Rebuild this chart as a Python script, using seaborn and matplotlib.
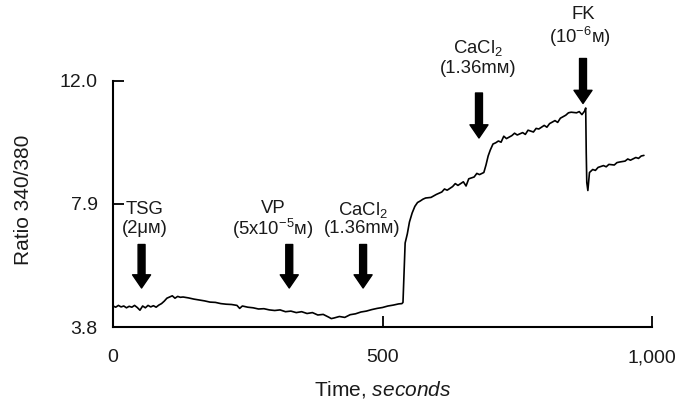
import matplotlib
matplotlib.use("Agg")
import matplotlib.pyplot as plt
import seaborn as sns
import pandas as pd

# ---- data ----
time_s = [0, 5, 10, 15, 20, 25, 30, 35, 40, 45, 50, 55, 60, 65, 70, 75, 80, 85, 90, 95,
          100, 105, 110, 115, 120, 125, 130, 140, 150, 160, 170, 180, 190, 200, 210, 220,
          230, 235, 240, 250, 260, 270, 280, 290, 300, 310, 320, 330, 340, 350, 360, 370,
          380, 390, 400, 405, 410, 420, 430, 440, 450, 460, 470, 480, 490, 500, 510, 520,
          530, 536, 538, 540, 542, 546, 550, 555, 560, 565, 570, 575, 580, 590, 600, 610,
          615, 620, 630, 635, 640, 650, 655, 660, 670, 675, 680, 688, 692, 696, 700, 705,
          710, 715, 720, 725, 730, 740, 745, 750, 760, 765, 770, 780, 785, 790, 800, 805,
          810, 820, 825, 830, 840, 845, 850, 860, 865, 870, 875, 877, 878, 879, 881, 884,
          890, 895, 900, 910, 915, 920, 930, 935, 940, 950, 955, 960, 970, 975, 980, 985]
ratio = [4.50, 4.46, 4.52, 4.47, 4.50, 4.44, 4.49, 4.46, 4.52, 4.45, 4.36, 4.50, 4.44, 4.52, 4.47, 4.51, 4.46, 4.53, 4.58, 4.66,
         4.76, 4.80, 4.84, 4.76, 4.82, 4.79, 4.80, 4.77, 4.73, 4.70, 4.67, 4.63, 4.62, 4.58, 4.56, 4.55,
         4.52, 4.42, 4.50, 4.46, 4.44, 4.40, 4.41, 4.37, 4.35, 4.37, 4.31, 4.33, 4.28, 4.31, 4.25, 4.28,
         4.20, 4.22, 4.13, 4.08, 4.10, 4.15, 4.12, 4.21, 4.24, 4.30, 4.33, 4.38, 4.42, 4.45, 4.50, 4.53,
         4.57, 4.58, 4.62, 5.60, 6.60, 6.90, 7.30, 7.60, 7.82, 7.95, 8.00, 8.06, 8.10, 8.12, 8.22, 8.30,
         8.40, 8.36, 8.48, 8.58, 8.52, 8.64, 8.50, 8.74, 8.80, 8.92, 8.88, 8.95, 9.20, 9.50, 9.70, 9.90,
         9.94, 10.00, 9.96, 10.16, 10.08, 10.18, 10.26, 10.20, 10.28, 10.22, 10.36, 10.30, 10.42, 10.40, 10.52, 10.46,
         10.58, 10.68, 10.62, 10.76, 10.86, 10.94, 10.96, 10.94, 10.98, 10.88, 11.00, 11.10, 9.60, 8.62, 8.35, 8.95,
         9.05, 9.02, 9.12, 9.18, 9.14, 9.22, 9.20, 9.28, 9.30, 9.33, 9.40, 9.36, 9.45, 9.42, 9.50, 9.52]

x_ticks = [0, 500, 1000]
x_tick_labels = ["0", "500", "1,000"]
y_ticks = [3.8, 7.9, 12.0]
y_tick_labels = ["3.8", "7.9", "12.0"]

# event arrows: (time, arrow top, arrow tip)
arrow_time = [53, 327, 464, 679, 872]
arrow_top = [6.55, 6.55, 6.55, 11.6, 12.75]
arrow_tip = [5.10, 5.10, 5.10, 10.1, 11.25]

# labels: (x, y, text)
label_x = [59, 59, 297, 297, 464, 462, 677, 677, 872, 866]
label_y = [7.70, 7.08, 7.76, 7.08, 7.70, 7.08, 13.10, 12.42, 14.20, 13.47]
label_text = ["TSG", "(2μᴍ)", "VP", "(5x10$^{-5}$ᴍ)", "CaCl$_2$", "(1.36mᴍ)",
              "CaCl$_2$", "(1.36mᴍ)", "FK", "(10$^{-6}$ᴍ)"]

# ---- style ----
sns.set_style("ticks")
plt.rcParams["font.family"] = ["Liberation Sans", "DejaVu Sans"]
plt.rcParams["mathtext.fontset"] = "custom"
plt.rcParams["mathtext.rm"] = "Liberation Sans"
plt.rcParams["mathtext.it"] = "Liberation Sans:italic"
plt.rcParams["mathtext.bf"] = "Liberation Sans:bold"

fig = plt.figure(figsize=(6.94, 4.01), dpi=100)
ax = fig.add_axes([113 / 694, 74 / 401, 539 / 694, 246 / 401])

df = pd.DataFrame({"time": time_s, "ratio": ratio})
sns.lineplot(data=df, x="time", y="ratio", ax=ax, color="black", linewidth=1.2,
             estimator=None)

ax.set_xlim(0, 1000)
ax.set_ylim(3.8, 12.0)
ax.set_xticks(x_ticks)
ax.set_xticklabels(x_tick_labels)
ax.set_yticks(y_ticks)
ax.set_yticklabels(y_tick_labels)
ax.tick_params(axis="both", direction="in", length=8, width=1.3, labelsize=14,
               color="black", labelcolor="#1a1a1a")
ax.tick_params(axis="x", pad=16)
ax.tick_params(axis="y", pad=11)

for side in ["top", "right"]:
    ax.spines[side].set_visible(False)
for side in ["left", "bottom"]:
    ax.spines[side].set_linewidth(1.5)
    ax.spines[side].set_color("black")

ax.set_ylabel("Ratio 340/380", fontsize=15, color="#1a1a1a")
ax.set_xlabel("Time, $\\mathit{seconds}$", fontsize=15, color="#1a1a1a")
ax.yaxis.set_label_coords(-0.148, 0.516)
ax.xaxis.set_label_coords(0.5, -0.212)

for t, top, tip in zip(arrow_time, arrow_top, arrow_tip):
    ax.annotate("", xy=(t, tip), xytext=(t, top), annotation_clip=False,
                arrowprops=dict(arrowstyle="simple,head_length=0.95,head_width=1.3,tail_width=0.5",
                                mutation_scale=10, color="black", shrinkA=0, shrinkB=0))

for lx, ly, txt in zip(label_x, label_y, label_text):
    ax.text(lx, ly, txt, ha="center", va="center", fontsize=13.3, color="#1a1a1a",
            clip_on=False)

fig.savefig("out.png", dpi=100)
